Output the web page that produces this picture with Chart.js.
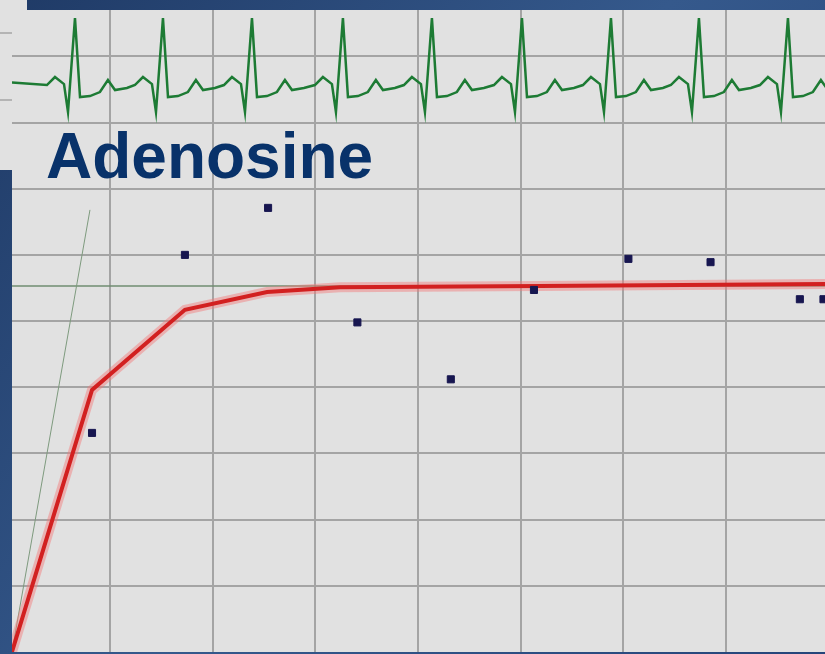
<!DOCTYPE html>
<html>
<head>
<meta charset="utf-8">
<script src="https://cdn.jsdelivr.net/npm/chart.js@4.4.1/dist/chart.umd.min.js"></script>
<style>
  html, body { margin: 0; padding: 0; background: #2a4675; overflow: hidden; }
</style>
</head>
<body>
<canvas id="chart" width="825" height="654"></canvas>
<script>
// grid positions (axis values)
const gridX = [10, 20, 30, 40, 50, 60, 70];
const gridY = [10, 20, 30, 40, 50, 60, 70, 80, 90];

// fitted response curve
const curveX = [0.45, 8.25, 17.3, 25.3, 32.4, 51.9, 79.65];
const curveY = [0, 39.6, 51.7, 54.4, 55.1, 55.3, 55.6];

// measured points
const measX = [8.25, 17.3, 25.4, 34.1, 43.2, 51.3, 60.5, 68.5, 77.2, 79.5];
const measY = [33.1, 60.0, 67.1, 49.8, 41.2, 54.7, 59.4, 58.9, 53.3, 53.3];

// initial slope line and plateau
const slopeX = [0.45, 8.05];
const slopeY = [0, 66.8];
const plateau = 55.3;

const beatTimes = [6.59, 15.16, 23.83, 32.69, 41.36, 50.13, 58.8, 67.37, 76.04];
const beatOffsets = [-2.73, -1.95, -1.07, -0.68, 0, 0.49, 1.46, 2.43, 3.21, 3.9, 5.06];
const beatMv = [0, 0.123, 0.015, -0.415, 1.03, -0.185, -0.17, -0.108, 0.077, -0.077, -0.046];

const ecgData = [{ x: 0.45, y: 0.04 }];
beatTimes.forEach(t => beatOffsets.forEach((d, i) => ecgData.push({ x: t + d, y: beatMv[i] })));

const xy = (xs, ys) => xs.map((x, i) => ({ x, y: ys[i] }));

const panel = {
  id: 'panel',
  beforeDraw(chart) {
    const { ctx, chartArea: a, width, height } = chart;
    ctx.save();
    const g = ctx.createLinearGradient(0, 0, width, height);
    g.addColorStop(0, '#1f3a66');
    g.addColorStop(0.5, '#35598c');
    g.addColorStop(1, '#26457a');
    ctx.fillStyle = g;
    ctx.fillRect(0, 0, width, height);
    ctx.fillStyle = '#e1e1e1';
    ctx.fillRect(0, 0, 27, 10);
    ctx.fillRect(0, 0, 12, 170);
    ctx.fillRect(a.left, a.top, a.right - a.left, a.bottom - a.top);
    ctx.fillStyle = '#b4b4b4';
    ctx.fillRect(0, 32, 12, 2);
    ctx.fillRect(0, 99, 12, 2);
    ctx.restore();
  }
};

const heading = {
  id: 'heading',
  afterDraw(chart) {
    const ctx = chart.ctx;
    ctx.save();
    ctx.font = 'bold 64px "Liberation Sans", Arial, sans-serif';
    ctx.fillStyle = '#08326a';
    ctx.textBaseline = 'alphabetic';
    ctx.fillText('Adenosine', 46, 178);
    ctx.restore();
  }
};

const gridScale = (min, max, ticks) => ({
  type: 'linear',
  min, max,
  afterBuildTicks: s => { s.ticks = ticks.map(v => ({ value: v })); },
  ticks: { display: false },
  grid: { color: '#a4a4a4', lineWidth: 2, drawTicks: false },
  border: { display: false }
});

new Chart(document.getElementById('chart'), {
  type: 'line',
  data: {
    datasets: [
      { data: xy(measX, measY), showLine: false, pointStyle: 'rect', pointRadius: 5,
        pointBackgroundColor: '#171650', pointBorderColor: '#171650', pointBorderWidth: 1 },
      { data: xy(curveX, curveY), borderColor: '#d22020', borderWidth: 4, pointRadius: 0, tension: 0 },
      { data: xy(curveX, curveY), borderColor: 'rgba(245,120,120,0.45)', borderWidth: 10, pointRadius: 0, tension: 0 },
      { data: xy(slopeX, slopeY), borderColor: '#7e9a7e', borderWidth: 1, pointRadius: 0 },
      { data: [{ x: 0.45, y: plateau }, { x: 79.65, y: plateau }], borderColor: '#6f8d71', borderWidth: 1.5, pointRadius: 0 },
      { data: ecgData, yAxisID: 'ecg', borderColor: '#1d7b34', borderWidth: 2.5, pointRadius: 0, tension: 0 }
    ]
  },
  options: {
    responsive: false,
    animation: false,
    events: [],
    layout: { autoPadding: false, padding: { left: 12, top: 10, right: 0, bottom: 2 } },
    plugins: { legend: { display: false }, tooltip: { enabled: false } },
    scales: {
      x: gridScale(0.455, 79.65, gridX),
      y: gridScale(0, 97, gridY),
      ecg: { type: 'linear', display: false, min: -8.72, max: 1.154 }
    }
  },
  plugins: [panel, heading]
});
</script>
</body>
</html>
